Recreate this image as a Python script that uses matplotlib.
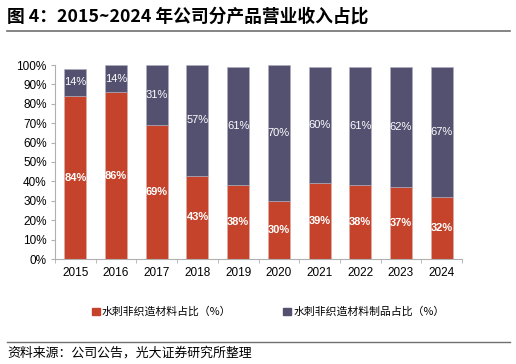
import numpy as np
import matplotlib.pyplot as plt
from matplotlib.lines import Line2D

plt.rcParams['font.family'] = ['Liberation Sans', 'Noto Sans CJK SC', 'DejaVu Sans']

years = ['2015', '2016', '2017', '2018', '2019', '2020', '2021', '2022', '2023', '2024']
material = [84, 86, 69, 43, 38, 30, 39, 38, 37, 32]
products = [14, 14, 31, 57, 61, 70, 60, 61, 62, 67]
legend_names = ['水刺非织造材料占比（%）', '水刺非织造材料制品占比（%）']

red = '#c4432a'
purple = '#535070'
cjk = ['Noto Sans CJK SC', 'DejaVu Sans']

fig = plt.figure(figsize=(5.16, 3.64), dpi=100)
ax = fig.add_axes([55 / 516, 1 - 259 / 364, 407 / 516, 194 / 364])

x = np.arange(len(years))
b1 = ax.bar(x, material, width=0.54, color=red, edgecolor='#e0b0a8', linewidth=0.4)
b2 = ax.bar(x, products, width=0.54, bottom=material, color=purple, edgecolor='#b0afc0', linewidth=0.4)

for i in range(len(years)):
    ax.text(x[i], material[i] / 2, f'{material[i]}%', ha='center', va='center',
            color='white', fontsize=8, fontweight='bold')
    ax.text(x[i], material[i] + products[i] / 2, f'{products[i]}%', ha='center', va='center',
            color='white', fontsize=8)

ax.set_xlim(-0.5, len(years) - 0.5)
ax.set_ylim(0, 100)
ax.set_yticks(np.arange(0, 101, 10))
ax.set_yticklabels([f'{v}%' for v in range(0, 101, 10)], fontsize=8.5)
ax.set_xticks(x)
ax.set_xticklabels(years, fontsize=8.5)
ax.set_xticks(np.arange(-0.5, len(years), 1), minor=True)
ax.tick_params(axis='x', which='major', length=0, pad=6)
ax.tick_params(axis='x', which='minor', length=3, color='#b0b0b0', direction='out')
ax.tick_params(axis='y', length=3, color='#b0b0b0', pad=3)
for s in ['top', 'right']:
    ax.spines[s].set_visible(False)
for s in ['left', 'bottom']:
    ax.spines[s].set_color('#b0b0b0')
    ax.spines[s].set_linewidth(0.8)

# title and rules
fig.text(7 / 516, 1 - 17 / 364, '图 4：2015~2024 年公司分产品营业收入占比', fontsize=12.8,
         fontweight='bold', va='center', ha='left', family=cjk)
fig.add_artist(Line2D([7 / 516, 510 / 516], [1 - 31 / 364, 1 - 31 / 364], color='#707070', linewidth=1.2))
fig.add_artist(Line2D([7 / 516, 510 / 516], [1 - 342 / 364, 1 - 342 / 364], color='#707070', linewidth=1.0))
fig.text(7 / 516, 1 - 353 / 364, '资料来源：公司公告，光大证券研究所整理', fontsize=9.3,
         va='center', ha='left', family=cjk)

handles = [plt.Rectangle((0, 0), 1, 1, color=red), plt.Rectangle((0, 0), 1, 1, color=purple)]
fig.legend(handles, legend_names, loc='center', bbox_to_anchor=(0.52, 1 - 312 / 364), ncol=2,
           frameon=False, prop={'family': cjk, 'size': 7.8}, handlelength=0.7, handleheight=0.7,
           handletextpad=0.2, columnspacing=4.8)

fig.savefig('out.png', dpi=100)
